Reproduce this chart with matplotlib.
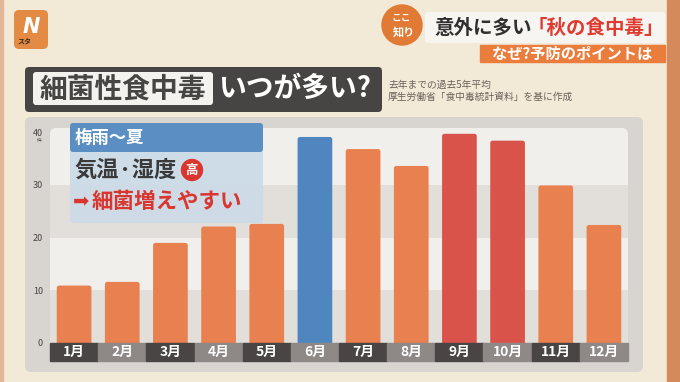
import matplotlib
matplotlib.use('Agg')
import matplotlib.pyplot as plt
from matplotlib.patches import FancyBboxPatch, Rectangle, Circle

plt.rcParams['font.family'] = ['Noto Sans CJK JP', 'DejaVu Sans']

# data
months = ['1月', '2月', '3月', '4月', '5月', '6月', '7月', '8月', '9月', '10月', '11月', '12月']
cases = [10.9, 11.6, 19.0, 22.1, 22.6, 39.1, 36.8, 33.6, 39.7, 38.4, 29.9, 22.4]
groups = ['base', 'base', 'base', 'base', 'base', 'rainy', 'base', 'base', 'peak', 'peak', 'base', 'base']
yticks = [0, 10, 20, 30, 40]

C_BG = '#f2e9d7'
C_ORANGE = '#e8804f'
C_BLUE = '#4f86c0'
C_RED = '#d9534a'
C_PANEL = '#d8d4cf'
C_BAND_W = '#f1efec'
C_BAND_G = '#e2ded9'
C_DARK = '#4a4545'
C_MID = '#8e8986'
group_color = {'base': C_ORANGE, 'rainy': C_BLUE, 'peak': C_RED}

W, H = 680, 382
fig = plt.figure(figsize=(W / 100, H / 100), dpi=100)
fig.patch.set_facecolor(C_BG)

# background layer in pixel coordinates
bg = fig.add_axes([0, 0, 1, 1])
bg.set_xlim(0, W)
bg.set_ylim(H, 0)
bg.axis('off')
bg.add_patch(Rectangle((667, 0), 13, H, color='#d58a5c'))
bg.add_patch(Rectangle((0, 0), 3, H, color='#e2b79a'))

# logo
bg.add_patch(FancyBboxPatch((14, 10), 34, 39, boxstyle='round,pad=0,rounding_size=5',
                            fc='#e38a45', ec='none'))
bg.text(31, 27, 'N', color='white', fontsize=15, fontweight='bold', style='italic',
        ha='center', va='center', family='DejaVu Sans')
bg.text(24, 42, 'スタ', color='#3a2a1a', fontsize=5, fontweight='bold', ha='center', va='center')

# top-right header
bg.add_patch(Circle((402, 25), 20, color='#e07a35'))
bg.text(401, 18, 'ここ', color='white', fontsize=7, fontweight='bold', ha='center', va='center')
bg.text(404, 32, '知り', color='white', fontsize=8, fontweight='bold', ha='center', va='center')
bg.add_patch(FancyBboxPatch((425, 12), 240, 31, boxstyle='round,pad=0,rounding_size=3',
                            fc='#f7f5f2', ec='none'))
bg.text(434, 28, '意外に多い', color='#2f2f2f', fontsize=14, fontweight='bold', va='center')
bg.text(664, 28, '「秋の食中毒」', color='#e03b30', fontsize=14, fontweight='bold',
        ha='right', va='center')
bg.add_patch(Rectangle((480, 45), 185, 17, color='#ea7d3c'))
bg.text(652, 53.5, 'なぜ?予防のポイントは', color='white', fontsize=11, fontweight='bold',
        ha='right', va='center')

# title block
bg.add_patch(FancyBboxPatch((25, 67), 357, 45, boxstyle='round,pad=0,rounding_size=4',
                            fc='#474444', ec='none'))
bg.add_patch(FancyBboxPatch((33, 72), 180, 33, boxstyle='round,pad=0,rounding_size=3',
                            fc='#f4f2ef', ec='none'))
bg.text(123, 89, '細菌性食中毒', color='#474444', fontsize=20, fontweight='bold',
        ha='center', va='center')
bg.text(295, 89, 'いつが多い?', color='white', fontsize=20, fontweight='bold',
        ha='center', va='center')
bg.text(388, 85, '去年までの過去5年平均', color='#6a625a', fontsize=7, va='center')
bg.text(388, 97, '厚生労働省「食中毒統計資料」を基に作成', color='#6a625a', fontsize=7, va='center')

# chart panel
bg.add_patch(FancyBboxPatch((25, 117), 618, 255, boxstyle='round,pad=0,rounding_size=6',
                            fc=C_PANEL, ec='none'))
bg.add_patch(FancyBboxPatch((50, 128), 578, 225, boxstyle='round,pad=0,rounding_size=6',
                            fc=C_BAND_W, ec='none'))

# bar chart
ax = fig.add_axes([50 / W, 1 - 343 / H, 578 / W, 215 / H])
ax.set_facecolor('none')
x = list(range(len(months)))
ax.set_xlim(-0.5, len(months) - 0.5)
ax.set_ylim(0, 40.8)
ax.axhspan(0, 10, color=C_BAND_G, lw=0, zorder=0)
ax.axhspan(20, 30, color=C_BAND_G, lw=0, zorder=0)
bars = ax.bar(x, cases, width=0.72, color=[group_color[g] for g in groups], zorder=2)
# swap the plain rectangles for ones with slightly rounded tops
for r in bars:
    r.set_visible(False)
    ax.add_patch(FancyBboxPatch((r.get_x(), r.get_y() - 1), r.get_width(), r.get_height() + 1,
                                boxstyle='round,pad=0,rounding_size=0.05',
                                mutation_aspect=9.1, fc=r.get_facecolor(), ec='none',
                                zorder=2, clip_on=False))
for s in ax.spines.values():
    s.set_visible(False)
ax.set_xticks([])
ax.set_yticks(yticks)
ax.set_yticklabels([str(t) for t in yticks], fontsize=6.5, color='#4a4545')
ax.tick_params(axis='y', length=0, pad=5)
ax.text(-0.72, 38.4, '件', fontsize=3.5, color='#4a4545', ha='center', va='center')

# month strip under the bars
for i, m in enumerate(months):
    ax.add_patch(Rectangle((i - 0.5, -3.5), 1, 3.5, color=C_DARK if i % 2 == 0 else C_MID,
                           clip_on=False, zorder=3))
    ax.text(i, -1.75, m, color='white', fontsize=10, fontweight='bold',
            ha='center', va='center', clip_on=False, zorder=4)

# callout box on top of the chart
top = fig.add_axes([0, 0, 1, 1])
top.set_xlim(0, W)
top.set_ylim(H, 0)
top.axis('off')
top.patch.set_alpha(0)
top.add_patch(FancyBboxPatch((70, 123), 193, 100, boxstyle='round,pad=0,rounding_size=3',
                             fc='#cddbe8', ec='none', alpha=0.95))
top.add_patch(FancyBboxPatch((70, 123), 193, 29, boxstyle='round,pad=0,rounding_size=3',
                             fc='#5b8fc4', ec='none'))
top.text(75, 137.5, '梅雨～夏', color='white', fontsize=12.5, fontweight='bold', va='center')
top.text(75, 170, '気温·湿度', color='#3a3a3a', fontsize=16, fontweight='bold', va='center')
top.add_patch(Circle((192, 170), 10.5, color='#d9362f'))
top.text(192, 170, '高', color='white', fontsize=9, fontweight='bold', ha='center', va='center')
top.text(73, 202, '➡', color='#d9362f', fontsize=14, va='center', family='DejaVu Sans')
top.text(92, 202, '細菌増えやすい', color='#d9362f', fontsize=15.5, fontweight='bold', va='center')

fig.savefig('out.png', dpi=100, facecolor=fig.get_facecolor())
